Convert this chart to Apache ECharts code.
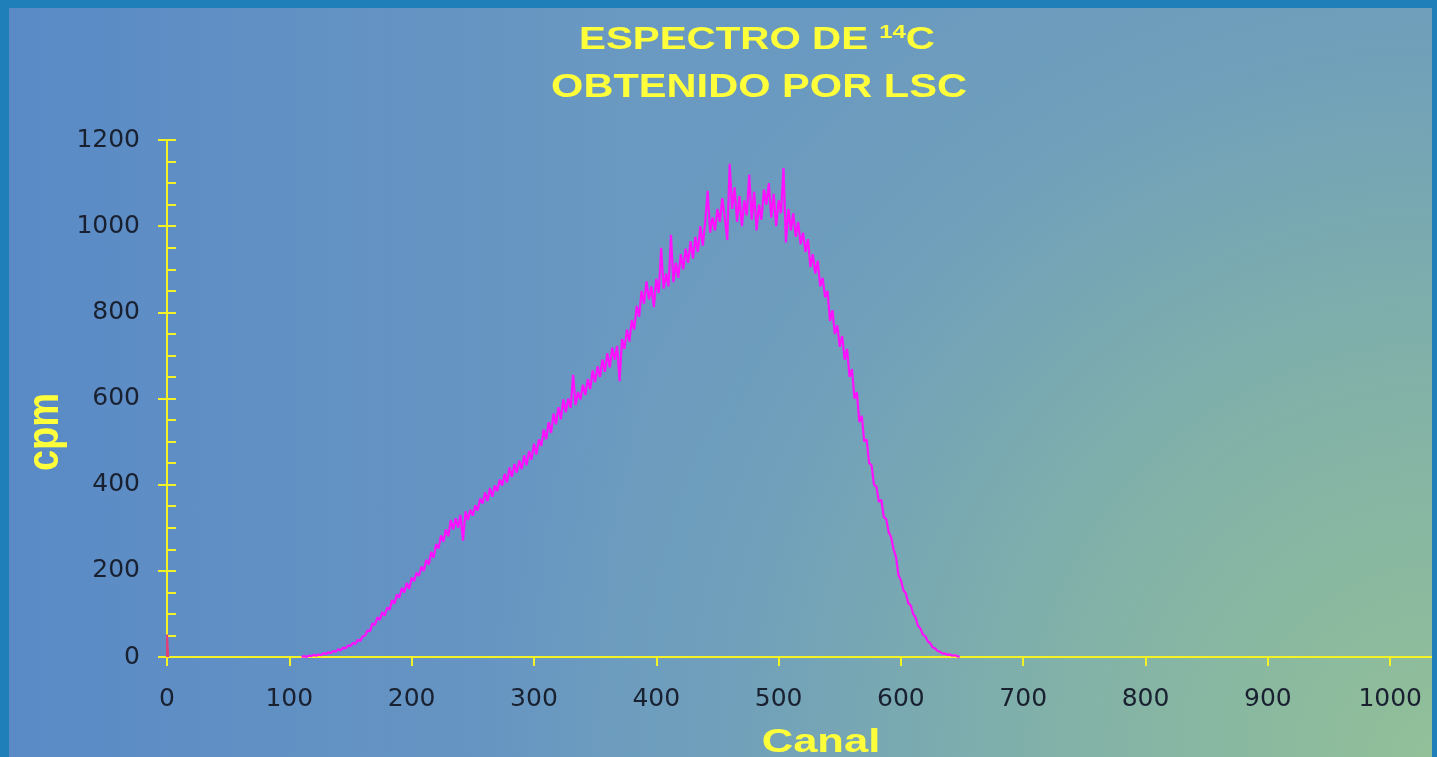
<!DOCTYPE html>
<html>
<head>
<meta charset="utf-8">
<style>
  html, body { margin: 0; padding: 0; }
  #espectro {
    width: 1437px; height: 757px;
    background:
      radial-gradient(950px 950px at 1437px 757px, rgba(148,194,150,0.95) 0%, rgba(140,188,158,0.7) 40%, rgba(130,180,170,0.25) 75%, rgba(130,180,170,0) 100%),
      linear-gradient(to right, #5a8ac6 0%, #6a99c1 45%, #6a99bf 100%);
  }
</style>
<script src="https://cdn.jsdelivr.net/npm/echarts@6/dist/echarts.min.js"></script>
</head>
<body>
<div id="espectro"></div>
<script>
// espectro de 14C (LSC), un punto cada 2 canales
var canalInicio = 110;
var pasoCanal = 2;
var cpm = [
  0, 2, 0, 3, 2, 5, 3, 6, 4, 9,
  7, 11, 9, 14, 12, 18, 15, 22, 20, 27,
  25, 33, 30, 40, 37, 48, 50, 62, 60, 78,
  74, 92, 86, 104, 96, 115, 110, 132, 124, 145,
  138, 160, 150, 172, 158, 184, 176, 196, 188, 210,
  200, 226, 214, 244, 230, 262, 252, 282, 268, 296,
  280, 318, 296, 322, 300, 330, 270, 338, 318, 342,
  328, 352, 340, 368, 356, 382, 362, 392, 372, 398,
  385, 412, 398, 425, 405, 440, 418, 448, 428, 456,
  436, 468, 445, 478, 458, 495, 470, 505, 490, 528,
  505, 545, 520, 565, 540, 580, 552, 598, 568, 600,
  578, 655, 585, 615, 598, 632, 608, 645, 622, 665,
  638, 675, 650, 690, 662, 705, 672, 718, 690, 722,
  640, 738, 715, 760, 732, 782, 760, 815, 790, 850,
  820, 872, 830, 860, 812, 878, 845, 950, 855, 890,
  860, 980, 870, 915, 880, 935, 900, 948, 915, 965,
  925, 975, 940, 1000, 955, 1010, 1082, 985, 1020, 990,
  1040, 1010, 1065, 1020, 968, 1145, 1040, 1090, 1010, 1070,
  1000, 1060, 1025, 1120, 1015, 1080, 990, 1050, 1015, 1085,
  1050, 1100, 1020, 1075, 1000, 1060, 1030, 1135, 962, 1040,
  990, 1030, 975, 1010, 958, 985, 940, 970, 905, 935,
  890, 920, 860, 880, 835, 850, 780, 805, 750, 770,
  720, 745, 690, 715, 650, 668, 600, 615, 545, 560,
  500, 505, 450, 445, 400, 395, 360, 365, 325, 320,
  290, 278, 250, 232, 190, 178, 155, 148, 125, 120,
  100, 92, 72, 66, 52, 48, 36, 32, 22, 20,
  14, 12, 8, 8, 5, 6, 3, 4, 2, 0
];
// pico en el canal 0
var picoCero = [[0, 0], [0, 52], [1, 0]];
var canalMax = 1035;   // el eje sigue hasta el marco
var cpmMax = 1200;

var amarillo = '#f2f224';
var textoAmarillo = '#ffff3a';
var textoEje = '#19202f';
var marco = '#1f7fb8';

var datos = cpm.map(function (v, i) {
  return [canalInicio + i * pasoCanal, v];
});

var dom = document.getElementById('espectro');
var myChart = echarts.init(dom);

var option = {
  animation: false,
  backgroundColor: 'transparent',
  grid: { left: 167, right: 4, top: 140, bottom: 100 },
  graphic: [
    // marco
    { type: 'rect', z: 100, silent: true, shape: { x: 0, y: 0, width: 9, height: 757 }, style: { fill: marco } },
    { type: 'rect', z: 100, silent: true, shape: { x: 0, y: 0, width: 1437, height: 8 }, style: { fill: marco } },
    { type: 'rect', z: 100, silent: true, shape: { x: 1432, y: 0, width: 5, height: 757 }, style: { fill: marco } },
    // titulo
    {
      type: 'text', z: 50, x: 757, y: 40, scaleX: 1.26,
      style: {
        text: '{m|ESPECTRO DE }{s|14}{m|C}',
        align: 'center', verticalAlign: 'middle',
        rich: {
          m: { fontFamily: 'Liberation Sans', fontWeight: 'bold', fontSize: 32, lineHeight: 34, fill: textoAmarillo },
          s: { fontFamily: 'Liberation Sans', fontWeight: 'bold', fontSize: 19, lineHeight: 19, verticalAlign: 'top', fill: textoAmarillo }
        }
      }
    },
    {
      type: 'text', z: 50, x: 759, y: 88, scaleX: 1.26,
      style: {
        text: 'OBTENIDO POR LSC',
        align: 'center', verticalAlign: 'middle',
        fontFamily: 'Liberation Sans', fontWeight: 'bold', fontSize: 33, fill: textoAmarillo
      }
    },
    // nombres de los ejes
    {
      type: 'text', z: 50, x: 46, y: 432, rotation: Math.PI / 2, scaleY: 1.18,
      style: {
        text: 'cpm', align: 'center', verticalAlign: 'middle',
        fontFamily: 'Liberation Sans', fontWeight: 'bold', fontSize: 38, fill: textoAmarillo
      }
    },
    {
      type: 'text', z: 50, x: 821, y: 743, scaleX: 1.32,
      style: {
        text: 'Canal', align: 'center', verticalAlign: 'middle',
        fontFamily: 'Liberation Sans', fontWeight: 'bold', fontSize: 33, fill: textoAmarillo
      }
    }
  ],
  xAxis: {
    type: 'value',
    min: 0,
    max: canalMax,
    interval: 100,
    splitLine: { show: false },
    axisLine: { onZero: false, lineStyle: { color: amarillo, width: 2 } },
    axisTick: { show: true, inside: false, length: 9, lineStyle: { color: amarillo, width: 2 } },
    axisLabel: {
      showMaxLabel: false,
      margin: 30,
      color: textoEje,
      fontFamily: 'DejaVu Sans',
      fontSize: 25,
      formatter: function (v) { return String(v); }
    }
  },
  yAxis: [
    {
      type: 'value',
      min: 0,
      max: cpmMax,
      interval: 200,
      splitLine: { show: false },
      axisLine: { show: true, lineStyle: { color: amarillo, width: 2 } },
      axisTick: { show: true, inside: true, length: 9, lineStyle: { color: amarillo, width: 2 } },
      minorTick: { show: true, splitNumber: 4, length: 9, lineStyle: { color: amarillo, width: 2 } },
      axisLabel: {
        margin: 27,
        color: textoEje,
        fontFamily: 'DejaVu Sans',
        fontSize: 25,
        formatter: function (v) { return String(v); }
      }
    },
    {
      // marcas hacia fuera del eje y
      type: 'value',
      position: 'left',
      min: 0,
      max: cpmMax,
      interval: 200,
      splitLine: { show: false },
      axisLine: { show: false },
      axisTick: { show: true, inside: false, length: 9, lineStyle: { color: amarillo, width: 2 } },
      axisLabel: { show: false }
    }
  ],
  series: [
    {
      name: 'cpm',
      type: 'line',
      data: datos,
      showSymbol: false,
      z: 3,
      lineStyle: { color: '#ff10ff', width: 2.2 }
    },
    {
      name: 'canal 0',
      type: 'line',
      data: picoCero,
      showSymbol: false,
      z: 3,
      lineStyle: { color: '#e2407a', width: 2 }
    }
  ]
};

if (option && typeof option === 'object') {
  myChart.setOption(option);
}
</script>
</body>
</html>
